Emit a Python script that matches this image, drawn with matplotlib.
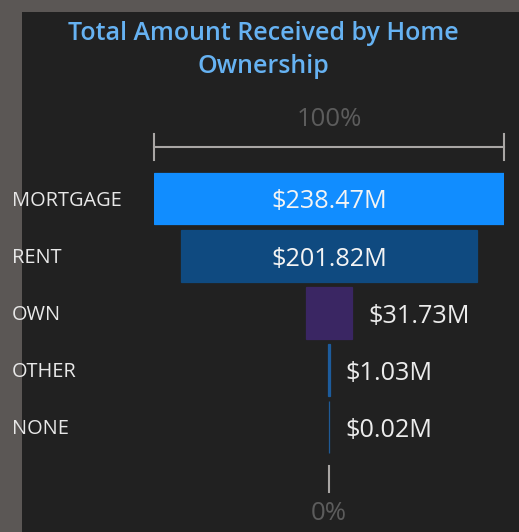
import matplotlib
matplotlib.use("Agg")
import matplotlib.pyplot as plt
from matplotlib.patches import Rectangle

# Funnel data (amounts in $M)
categories = ["MORTGAGE", "RENT", "OWN", "OTHER", "NONE"]
amounts = [238.47, 201.82, 31.73, 1.03, 0.02]
bar_colors = ["#118dff", "#0f4a80", "#3a2663", "#1d5c9c", "#1f5a96"]
title = "Total Amount Received by Home\nOwnership"
top_label = "100%"
bottom_label = "0%"

plt.rcParams["font.family"] = ["Open Sans", "DejaVu Sans"]

W, H = 519, 532
fig = plt.figure(figsize=(W / 100, H / 100), dpi=100)
fig.patch.set_facecolor("#5b5755")
# dark visual panel
fig.add_artist(Rectangle((22 / W, 0), 1 - 22 / W, 1 - 12 / H,
                         transform=fig.transFigure, facecolor="#212121",
                         edgecolor="none", zorder=0))

fig.text(263 / W, 1 - 50 / H, title, ha="center", va="center",
         color="#66b2f2", fontsize=18, fontweight="semibold", linespacing=1.45)

# axes placed so that one row = 57 px, funnel spans 154..504 px
pitch = 57.125
first_row = 198.5
top_px = first_row - pitch / 2
n = len(categories)
ax = fig.add_axes([154 / W, 1 - (top_px + n * pitch) / H, 350 / W, n * pitch / H])
ax.set_facecolor("none")

vmax = max(amounts)
rows = list(range(n))
ax.barh(rows, amounts, left=[-a / 2 for a in amounts], height=0.91,
        color=bar_colors, edgecolor=bar_colors, linewidth=0.9)
ax.set_xlim(-vmax / 2, vmax / 2)
ax.set_ylim(n - 0.5, -0.5)

ax.set_yticks(rows)
ax.set_yticklabels(categories, fontsize=14.4, color="#e8e8e8", ha="left")
ax.tick_params(axis="y", length=0, pad=142 * 0.72)
ax.tick_params(axis="x", bottom=False, labelbottom=False)
for s in ax.spines.values():
    s.set_visible(False)

# data labels: inside for wide bars, to the right otherwise
for i, a in enumerate(amounts):
    txt = f"${a:.2f}M"
    if a / vmax > 0.5:
        ax.annotate(txt, xy=(0, i), xytext=(0, -2.5), textcoords="offset points",
                    ha="center", va="center", color="#f4f4f4", fontsize=18.2)
    else:
        ax.annotate(txt, xy=(a / 2, i), xytext=(11.5, -2.5), textcoords="offset points",
                    ha="left", va="center", color="#ececec", fontsize=18.2)

# 100% bracket above and 0% tick below
line_c = "#a9a6a4"
r_top = (147 - first_row) / pitch
r_bot = (479 - first_row) / pitch
tick = 13 / pitch
ax.plot([-vmax / 2, vmax / 2], [r_top, r_top], color=line_c, lw=1.5, clip_on=False)
for x in (-vmax / 2, vmax / 2):
    ax.plot([x, x], [r_top - tick, r_top + tick], color=line_c, lw=1.5, clip_on=False)
ax.plot([0, 0], [r_bot - tick, r_bot + tick], color=line_c, lw=1.5, clip_on=False)
ax.text(0, (119.5 - first_row) / pitch, top_label, ha="center", va="center",
        color="#5c5c5c", fontsize=18.5)
ax.text(0, (513.5 - first_row) / pitch, bottom_label, ha="center", va="center",
        color="#5c5c5c", fontsize=18.5)

fig.savefig("out.png", dpi=100, facecolor=fig.get_facecolor())
